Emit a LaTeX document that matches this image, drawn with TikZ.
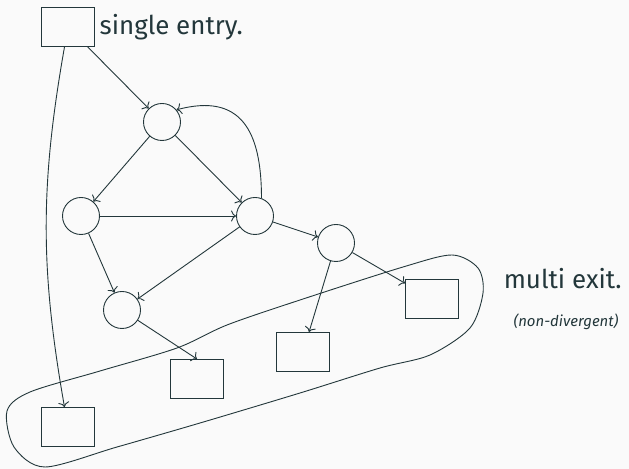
\documentclass[tikz,border=0pt]{standalone}
\usepackage{fontspec}
\setmainfont{Fira Sans}
\usetikzlibrary{arrows.meta,positioning}
\definecolor{darkteal}{HTML}{23373B}
\definecolor{slidebg}{HTML}{FAFAFA}

\begin{document}
\begin{tikzpicture}[x=1bp,y=1bp,line width=0.9bp,draw=darkteal,
  blk/.style={draw,circle,minimum size=37bp,inner sep=0pt},
  exitbox/.style={draw,rectangle,minimum width=53bp,minimum height=39bp,inner sep=0pt},
  lbl/.style={font=\fontsize{26}{30}\selectfont,text=darkteal},
  note/.style={font=\fontsize{15}{18}\selectfont\itshape,text=darkteal},
  >={To[length=5bp,width=11bp]}]
\fill[slidebg] (0,0) rectangle (629,469);
\useasboundingbox (0,0) rectangle (629,469);
\node[exitbox] (entry) at (68,442) {};
\node[lbl,right=1pt of entry] (entrytxt) {single entry.};
\node[blk] (head) at (162,347) {};
\node[blk] (west) at (81,253) {};
\node[blk] (east) at (255,253) {};
\node[blk] (fork) at (336,226) {};
\node[blk] (tail) at (122,159) {};
\node[exitbox] (exit1) at (432,170) {};
\node[exitbox] (exit2) at (303,117) {};
\node[exitbox] (exit3) at (197,90) {};
\node[exitbox] (exit4) at (68,42) {};
\node[lbl,anchor=west] (exittxt) at (500,190) {multi exit.};
\node[note] (nondiv) at (566,147) {(non-divergent)};
\foreach \from/\to in {entry/head,head/west,head/east,west/east,west/tail,east/tail,east/fork,fork/exit1,fork/exit2}
  \draw[->] (\from) -- (\to);
\draw[->] (tail) -- (exit3.north);
\draw[->] (entry) to[bend right=10] (exit4);
\draw[->] (east.70) to[out=90,in=15,looseness=1.4] (head.40);
% the exits all sit inside one closed region
\draw plot[smooth cycle] coordinates {(7,58) (30,77) (100,98) (177,121) (227,144) (300,169) (403,202)
  (452,214) (478,201) (483,176) (470,141) (430,114) (380,101) (300,76) (200,46) (117,22) (45,2) (14,22)};
\end{tikzpicture}
\end{document}
